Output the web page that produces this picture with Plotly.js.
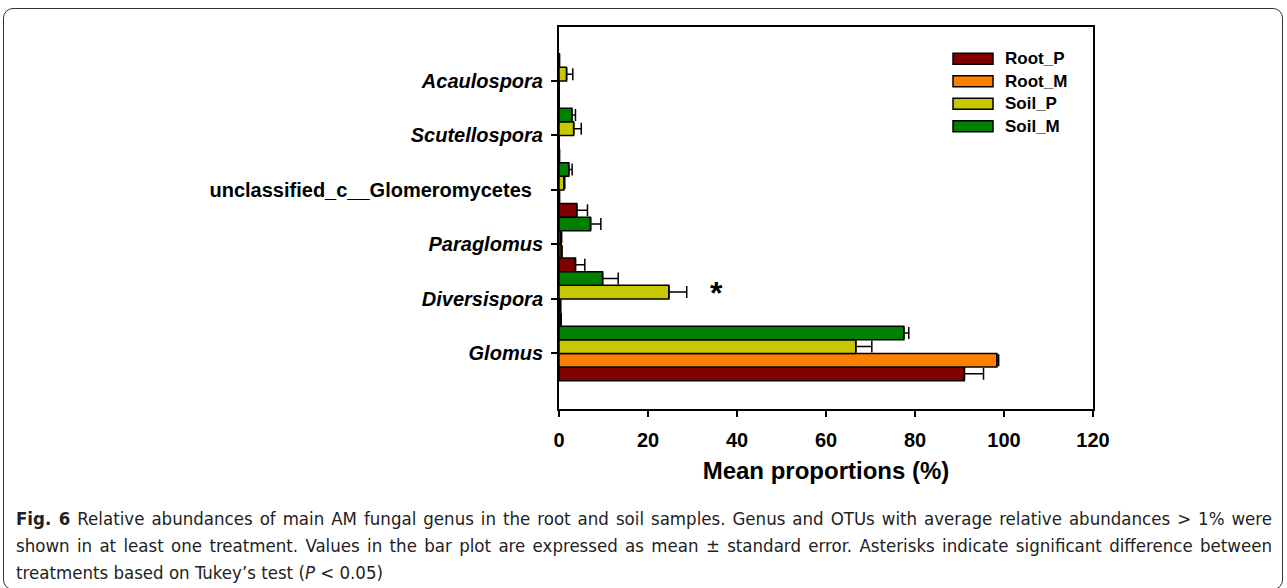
<!DOCTYPE html>
<html>
<head>
<meta charset="utf-8">
<script src="https://cdn.plot.ly/plotly-3.0.1.min.js"></script>
<style>
  html, body { margin: 0; padding: 0; background: #fff; }
  #wrap { position: relative; width: 1287px; height: 588px; overflow: hidden; }
  #chart { position: absolute; left: 0; top: 0; width: 1287px; height: 588px; }
  #frame { position: absolute; left: 3px; top: 8px; width: 1278px; height: 580px;
           border: 1.5px solid #333; border-radius: 10px; pointer-events: none; }
  #caption { position: absolute; left: 16px; top: 505px; width: 1256px;
             font-family: "Liberation Sans Narrow", "DejaVu Sans Condensed", "DejaVu Sans", sans-serif;
             font-stretch: condensed;
             font-size: 18.5px; line-height: 27px; color: #222; }
  #caption .j { text-align: justify; text-align-last: justify; white-space: nowrap; }
  #caption .l { text-align: left; white-space: nowrap; }
</style>
</head>
<body>
<div id="wrap">
  <div id="chart"></div>
  <div id="frame"></div>
  <div id="caption">
    <div class="j"><b>Fig. 6</b> Relative abundances of main AM fungal genus in the root and soil samples. Genus and OTUs with average relative abundances &gt; 1% were</div>
    <div class="j">shown in at least one treatment. Values in the bar plot are expressed as mean ± standard error. Asterisks indicate significant difference between</div>
    <div class="l">treatments based on Tukey’s test (<i>P</i> &lt; 0.05)</div>
  </div>
</div>
<script>
// ---- data (bottom to top on the y axis) ----
const categories = ['Glomus', 'Diversispora', 'Paraglomus', 'unclassified_c__Glomeromycetes', 'Scutellospora', 'Acaulospora'];
const categoryLabels = ['<i>Glomus</i>', '<i>Diversispora</i>', '<i>Paraglomus</i>', 'unclassified_c__Glomeromycetes\u00a0\u00a0', '<i>Scutellospora</i>', '<i>Acaulospora</i>'];

const seriesNames = ['Root_P', 'Root_M', 'Soil_P', 'Soil_M'];
const seriesColors = ['#800000', '#FF8000', '#C8C800', '#008000'];

const rootP    = [91.1, 0.4, 3.7, 4.0, 0.1, 0.05];
const rootPErr = [4.3, 0.1, 2.1, 2.4, 0, 0];
const rootM    = [98.4, 0.3, 0.5, 0.1, 0.05, 0.05];
const rootMErr = [0.4, 0.1, 0.2, 0, 0, 0];
const soilP    = [66.7, 24.7, 0.4, 1.1, 3.3, 1.7];
const soilPErr = [3.6, 4.0, 0.2, 0.2, 1.7, 1.4];
const soilM    = [77.5, 9.8, 7.1, 2.2, 2.9, 0.1];
const soilMErr = [1.1, 3.5, 2.3, 0.75, 0.8, 0];

const xTicks = [0, 20, 40, 60, 80, 100, 120];
const sigLabel = { category: 'Diversispora', x: 35.5, text: '*' };

// ---- layout geometry ----
const W = 1287, H = 588;
const L = 559, R = 1093, T = 27, B = 409;
const px2x = x => (x - L) / (R - L);
const py2y = y => (B - y) / (B - T);
const FONT = 'Arial, Liberation Sans, Helvetica, sans-serif';

const values = [rootP, rootM, soilP, soilM];
const errors = [rootPErr, rootMErr, soilPErr, soilMErr];

const traces = seriesNames.map((name, i) => ({
  type: 'bar',
  orientation: 'h',
  name: name,
  y: categories,
  x: values[i],
  marker: { color: seriesColors[i], line: { color: '#000', width: 1.5 } },
  error_x: {
    type: 'data', symmetric: false,
    array: errors[i], arrayminus: errors[i].map(() => 0),
    color: '#000', thickness: 1.5, width: 6
  },
  showlegend: false,
  hoverinfo: 'x+name'
}));

// custom legend (wide rectangular swatches like the original)
const shapes = [];
const annotations = [];
seriesNames.forEach((name, i) => {
  const yc = 58.7 + i * 22.5;
  shapes.push({
    type: 'rect', xref: 'paper', yref: 'paper',
    x0: px2x(953), x1: px2x(993), y0: py2y(yc + 5.5), y1: py2y(yc - 5.5),
    fillcolor: seriesColors[i], line: { color: '#000', width: 1.5 }
  });
  annotations.push({
    xref: 'paper', yref: 'paper', x: px2x(1003), y: py2y(yc),
    xanchor: 'left', yanchor: 'middle', showarrow: false,
    text: name, font: { family: FONT, size: 17, color: '#000', weight: 'bold' }
  });
});

annotations.push({
  xref: 'x', yref: 'y', x: sigLabel.x, y: sigLabel.category, yshift: 6,
  xanchor: 'center', yanchor: 'middle', showarrow: false,
  text: sigLabel.text, font: { family: FONT, size: 32, color: '#000', weight: 'bold' }
});

const layout = {
  width: W, height: H,
  margin: { l: L, r: W - R, t: T, b: H - B, pad: 0 },
  paper_bgcolor: '#fff', plot_bgcolor: '#fff',
  barmode: 'group', bargap: 0, bargroupgap: 0,
  font: { family: FONT, color: '#000' },
  xaxis: {
    range: [0, 120], tickvals: xTicks, ticktext: xTicks.map(String),
    showgrid: false, zeroline: false,
    showline: true, linecolor: '#000', linewidth: 2, mirror: true,
    ticks: 'outside', ticklen: 6, tickwidth: 2, tickcolor: '#000',
    ticklabelstandoff: 6,
    tickfont: { family: FONT, size: 20, color: '#000', weight: 'bold' },
    title: { text: 'Mean proportions (%)', standoff: 12,
             font: { family: FONT, size: 24, color: '#000', weight: 'bold' } },
    fixedrange: true
  },
  yaxis: {
    type: 'category', categoryorder: 'array', categoryarray: categories,
    range: [-1.02, 5.99],
    tickvals: categories, ticktext: categoryLabels,
    showgrid: false, zeroline: false,
    showline: true, linecolor: '#000', linewidth: 2, mirror: true,
    ticks: 'outside', ticklen: 6, tickwidth: 2, tickcolor: '#000',
    ticklabelstandoff: 4,
    tickfont: { family: FONT, size: 20, color: '#000', weight: 'bold' },
    fixedrange: true
  },
  shapes: shapes,
  annotations: annotations
};

Plotly.newPlot('chart', traces, layout, { displayModeBar: false, staticPlot: true });
</script>
</body>
</html>
